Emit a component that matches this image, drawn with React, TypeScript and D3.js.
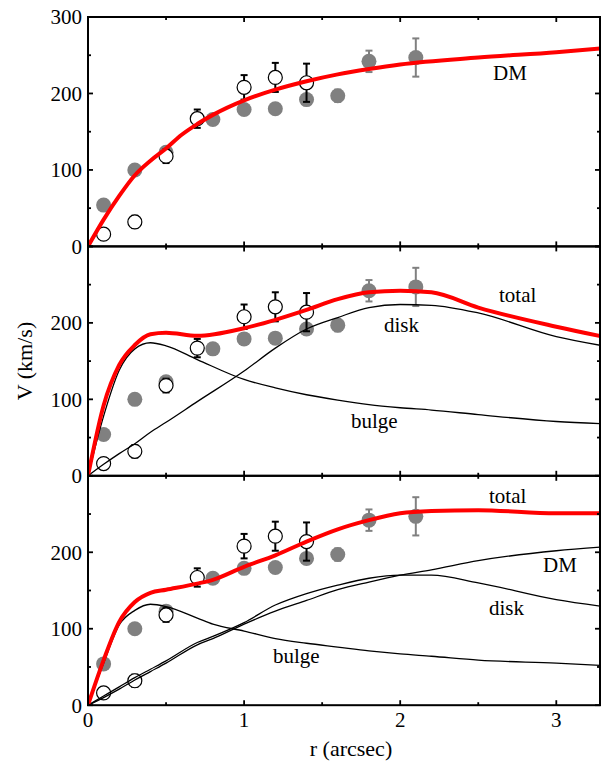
import React from "react";
import * as d3 from "d3";

// observed points (same in every panel)
const openR = [0.1, 0.3, 0.5, 0.7, 1.0, 1.2, 1.4];
const openV = [16, 32, 118, 167, 208, 221, 214];
const openErr = [7, 8, 9, 12, 16, 19, 25];
const filledR = [0.1, 0.3, 0.5, 0.8, 1.0, 1.2, 1.4, 1.6, 1.8, 2.1];
const filledV = [54, 100, 123, 166, 179, 180, 192, 197, 242, 247];
const filledErr = [0, 0, 0, 0, 0, 0, 0, 8, 14, 25];

// model curves
const rTop = [0, 0.1, 0.2, 0.3, 0.4, 0.5, 0.6, 0.7, 0.8, 1.0, 1.2, 1.4, 1.6, 1.8, 2.0, 2.5, 3.0, 3.3];
const dmTop = [0, 35, 66, 93, 112, 128, 146, 160, 172, 191, 205, 216, 225, 232, 238, 247, 254, 259];

const rMid = [0, 0.1, 0.2, 0.3, 0.4, 0.5, 0.7, 1.0, 1.2, 1.4, 1.6, 1.8, 2.0, 2.2, 2.5, 3.0, 3.3];
const totalMid = [0, 92, 145, 171, 185, 187, 183, 193, 204, 217, 231, 240, 242, 240, 220, 195, 182];
const bulgeMid = [0, 78, 138, 166, 174, 170, 152, 126, 115, 106, 99, 93, 89, 86, 80, 71, 68];
const diskMid = [0, 15, 29, 42, 57, 70, 97, 137, 167, 192, 207, 220, 224, 223, 213, 182, 170];

const rBot = [0, 0.1, 0.2, 0.3, 0.4, 0.5, 0.7, 0.8, 1.0, 1.2, 1.4, 1.6, 1.8, 2.0, 2.2, 2.5, 3.0, 3.3];
const totalBot = [0, 59, 109, 135, 147, 151, 159, 164, 181, 196, 214, 230, 242, 251, 254, 255, 251, 251];
const bulgeBot = [0, 55, 105, 124, 132, 129, 114, 106, 97, 87, 81, 76, 71, 67, 64, 59, 55, 52];
const diskBot = [0, 12, 24, 36, 47, 58, 82, 90, 108, 131, 146, 157, 166, 170, 170, 160, 138, 129];
const dmBot = [0, 10, 21, 33, 44, 55, 79, 87, 106, 123, 137, 151, 161, 170, 177, 189, 202, 207];

const xMajor = [0, 1, 2, 3];
const xMinor = [0.5, 1.5, 2.5];
const yMajor = [0, 100, 200, 300];
const yMinor = [50, 150, 250];

const W = 601;
const H = 762;
const left = 88;
const right = 600;
const top0 = 17;
const ph = 229.4;
const font = "'Liberation Serif', 'Times New Roman', serif";
const gray = "#808080";

type Curve = { r: number[]; v: number[]; red?: boolean };
type Label = { text: string; x: number; y: number };

const panels: { curves: Curve[]; labels: Label[]; yLabels: number[] }[] = [
  {
    curves: [{ r: rTop, v: dmTop, red: true }],
    labels: [{ text: "DM", x: 493, y: 80 }],
    yLabels: [0, 100, 200, 300],
  },
  {
    curves: [
      { r: rMid, v: bulgeMid },
      { r: rMid, v: diskMid },
      { r: rMid, v: totalMid, red: true },
    ],
    labels: [
      { text: "total", x: 499, y: 302 },
      { text: "disk", x: 384, y: 332 },
      { text: "bulge", x: 351, y: 428 },
    ],
    yLabels: [0, 100, 200],
  },
  {
    curves: [
      { r: rBot, v: bulgeBot },
      { r: rBot, v: diskBot },
      { r: rBot, v: dmBot },
      { r: rBot, v: totalBot, red: true },
    ],
    labels: [
      { text: "total", x: 489, y: 503 },
      { text: "DM", x: 543, y: 572 },
      { text: "disk", x: 489, y: 615 },
      { text: "bulge", x: 273, y: 663 },
    ],
    yLabels: [0, 100, 200],
  },
];

export default function App() {
  const x = d3.scaleLinear().domain([0, 3.28]).range([left, right]);

  return (
    <div style={{ position: "absolute", left: 0, top: 0 }}>
      <svg width={W} height={H} style={{ display: "block" }} fontFamily={font}>
        <rect width={W} height={H} fill="#fff" />
        {panels.map((p, i) => {
          const t = top0 + i * ph;
          const y = d3.scaleLinear().domain([0, 300]).range([t + ph, t]);
          const line = d3
            .line<[number, number]>()
            .x((d) => x(d[0]))
            .y((d) => y(d[1]))
            .curve(d3.curveMonotoneX);
          const cap = 3.5;
          return (
            <g key={i}>
              {/* filled points */}
              {filledR.map((r, j) =>
                filledErr[j] > 0 ? (
                  <g key={"fe" + j} stroke={gray} strokeWidth={2}>
                    <line x1={x(r)} x2={x(r)} y1={y(filledV[j] - filledErr[j])} y2={y(filledV[j] + filledErr[j])} />
                    <line x1={x(r) - cap} x2={x(r) + cap} y1={y(filledV[j] + filledErr[j])} y2={y(filledV[j] + filledErr[j])} />
                    <line x1={x(r) - cap} x2={x(r) + cap} y1={y(filledV[j] - filledErr[j])} y2={y(filledV[j] - filledErr[j])} />
                  </g>
                ) : null
              )}
              {filledR.map((r, j) => (
                <circle key={"f" + j} cx={x(r)} cy={y(filledV[j])} r={7.5} fill={gray} />
              ))}
              {/* open points */}
              {openR.map((r, j) => (
                <g key={"oe" + j} stroke="#000" strokeWidth={2}>
                  <line x1={x(r)} x2={x(r)} y1={y(openV[j] - openErr[j])} y2={y(openV[j] + openErr[j])} />
                  <line x1={x(r) - cap} x2={x(r) + cap} y1={y(openV[j] + openErr[j])} y2={y(openV[j] + openErr[j])} />
                  <line x1={x(r) - cap} x2={x(r) + cap} y1={y(openV[j] - openErr[j])} y2={y(openV[j] - openErr[j])} />
                </g>
              ))}
              {openR.map((r, j) => (
                <circle key={"o" + j} cx={x(r)} cy={y(openV[j])} r={7} fill="#fff" stroke="#000" strokeWidth={1.2} />
              ))}
              {/* curves */}
              <g clipPath={`url(#clip${i})`}>
                {p.curves.map((c, j) => (
                  <path
                    key={"c" + j}
                    d={line(c.r.map((r, k) => [r, c.v[k]] as [number, number])) || ""}
                    fill="none"
                    stroke={c.red ? "#ff0000" : "#000"}
                    strokeWidth={c.red ? 4 : 1.3}
                    strokeLinejoin="round"
                  />
                ))}
              </g>
              <clipPath id={`clip${i}`}>
                <rect x={left} y={t} width={right - left} height={ph} />
              </clipPath>
              {p.labels.map((l, j) => (
                <text key={"l" + j} x={l.x} y={l.y} fontSize={21}>
                  {l.text}
                </text>
              ))}
              {/* frame and ticks */}
              <rect x={left} y={t} width={right - left} height={ph} fill="none" stroke="#000" strokeWidth={2} />
              <g stroke="#000" strokeWidth={1.8}>
                {xMajor.concat(xMinor).map((v) => {
                  const len = xMajor.includes(v) ? 5 : 3;
                  return (
                    <g key={"xt" + v}>
                      <line x1={x(v)} x2={x(v)} y1={t + ph} y2={t + ph - len} />
                      <line x1={x(v)} x2={x(v)} y1={t} y2={t + len} />
                    </g>
                  );
                })}
                {yMajor.concat(yMinor).map((v) => {
                  const len = yMajor.includes(v) ? 5 : 3;
                  return (
                    <g key={"yt" + v}>
                      <line x1={left} x2={left + len} y1={y(v)} y2={y(v)} />
                      <line x1={right} x2={right - len} y1={y(v)} y2={y(v)} />
                    </g>
                  );
                })}
              </g>
              {p.yLabels.map((v) => (
                <text key={"yl" + v} x={82} y={y(v)} dy="0.35em" textAnchor="end" fontSize={21}>
                  {v}
                </text>
              ))}
              {i === 2 &&
                xMajor.map((v) => (
                  <text key={"xl" + v} x={x(v)} y={t + ph + 22} textAnchor="middle" fontSize={21}>
                    {v}
                  </text>
                ))}
            </g>
          );
        })}
        <text x={351} y={756} textAnchor="middle" fontSize={22}>
          r (arcsec)
        </text>
        <text transform="translate(32,361) rotate(-90)" textAnchor="middle" fontSize={22}>
          V (km/s)
        </text>
      </svg>
    </div>
  );
}
